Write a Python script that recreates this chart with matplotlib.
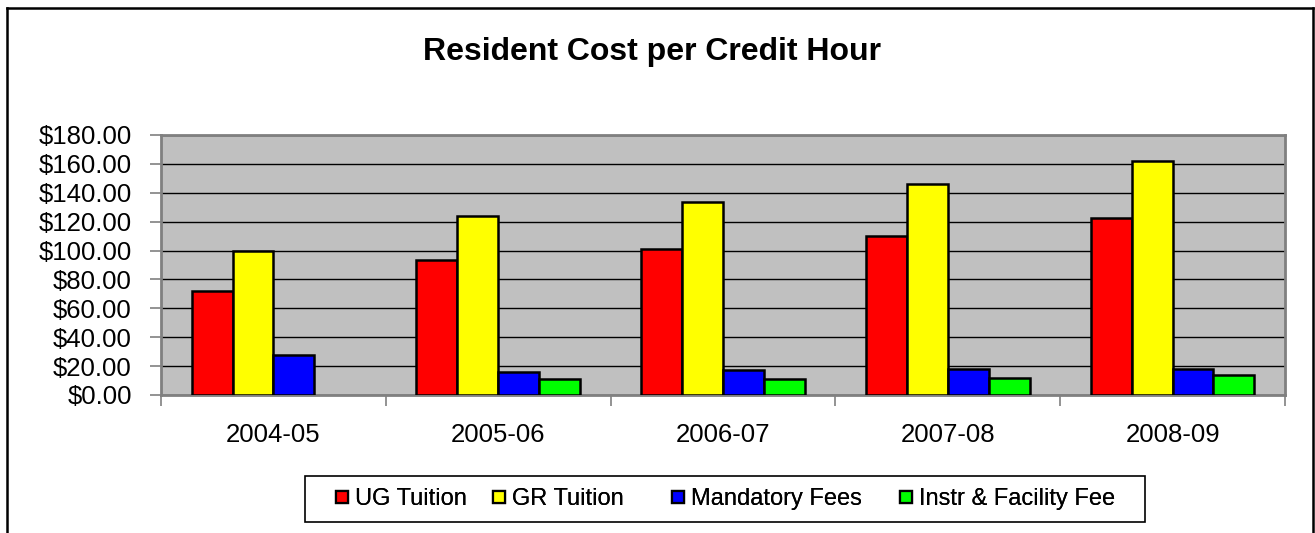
import matplotlib
matplotlib.use("Agg")
import matplotlib.pyplot as plt
from matplotlib.lines import Line2D
from matplotlib.patches import Rectangle
import numpy as np

categories = ["2004-05", "2005-06", "2006-07", "2007-08", "2008-09"]
ug_tuition = [72.2, 93.5, 100.9, 110.1, 122.3]
gr_tuition = [100.0, 124.2, 133.9, 146.3, 161.8]
mandatory_fees = [27.7, 15.9, 17.3, 18.2, 18.2]
instr_facility_fee = [0.0, 11.1, 10.8, 11.8, 13.8]
series_names = ["UG Tuition", "GR Tuition", "Mandatory Fees", "Instr & Facility Fee"]
series_values = [ug_tuition, gr_tuition, mandatory_fees, instr_facility_fee]
series_colors = ["#FF0000", "#FFFF00", "#0000FF", "#00FF00"]
y_ticks = [0, 20, 40, 60, 80, 100, 120, 140, 160, 180]

plt.rcParams['font.family'] = ['Liberation Sans', 'DejaVu Sans']

W, H = 1315, 533
fig = plt.figure(figsize=(W / 100, H / 100), dpi=100)
ax = fig.add_axes([161 / W, 1 - 395 / H, (1285 - 161) / W, (395 - 135) / H])
ax.set_facecolor("#C0C0C0")

x = np.arange(len(categories))
bw = 1 / 5.5
handles = []
for i, (name, vals, col) in enumerate(zip(series_names, series_values, series_colors)):
    offs = (i - 1.5) * bw
    v = np.array(vals)
    mask = v > 0
    ax.bar(x[mask] + offs, v[mask], width=bw, color=col, edgecolor="black",
           linewidth=1.8, zorder=3)
    handles.append(Line2D([], [], marker="s", linestyle="none", markersize=8.5,
                          markerfacecolor=col, markeredgecolor="black",
                          markeredgewidth=1.6, label=name))

ax.set_xlim(-0.5, len(categories) - 0.5)
ax.set_ylim(0, 180)
ax.set_yticks(y_ticks)
ax.set_yticklabels([f"${t:.2f}" for t in y_ticks], fontsize=18.5)
ax.yaxis.grid(True, color="black", linewidth=1.0, zorder=1)
ax.set_axisbelow(True)

ax.set_xticks(x)
ax.set_xticklabels(categories, fontsize=18.5)
ax.set_xticks(np.arange(-0.5, len(categories)), minor=True)
ax.tick_params(axis="x", which="major", length=0, pad=20)
ax.tick_params(axis="x", which="minor", length=8, width=1.2, color="#808080")
ax.tick_params(axis="y", which="major", length=8, width=1.2, color="#808080", pad=13)

for s in ax.spines.values():
    s.set_color("#808080")
    s.set_linewidth(2)

fig.text(652 / W, 1 - 52 / H, "Resident Cost per Credit Hour", ha="center", va="center",
         fontsize=23, fontweight="bold")

# legend frame
fig.add_artist(Rectangle((305 / W, 1 - 522 / H), (1145 - 305) / W, (522 - 476) / H,
                         transform=fig.transFigure, facecolor="white",
                         edgecolor="black", linewidth=1.2))
# legend entries (Excel-like uneven spacing); one legend per entry
entry_left_px = [333, 490, 669, 897]
for h, xl in zip(handles, entry_left_px):
    lg = fig.legend(handles=[h], loc="center left", bbox_to_anchor=(xl / W, 1 - 499 / H),
                    fontsize=17, frameon=False, handlelength=0.75, handletextpad=0.2,
                    borderpad=0.0, borderaxespad=0)
    fig.add_artist(lg)

# outer chart border
fig.add_artist(Line2D([7 / W, 7 / W], [0, 1 - 8 / H], color="black", linewidth=1.8,
                      transform=fig.transFigure))
fig.add_artist(Line2D([7 / W, 1313 / W], [1 - 8 / H, 1 - 8 / H], color="black", linewidth=1.8,
                      transform=fig.transFigure))
fig.add_artist(Line2D([1313 / W, 1313 / W], [0, 1 - 8 / H], color="black", linewidth=1.8,
                      transform=fig.transFigure))

fig.savefig("out.png", dpi=100)
